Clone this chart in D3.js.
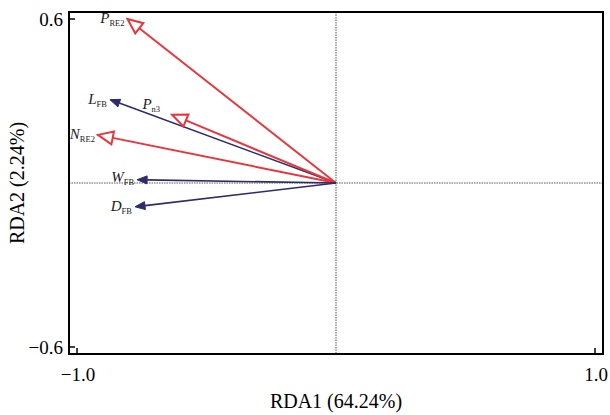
<!DOCTYPE html>
<html>
<head>
<meta charset="utf-8">
<script src="https://cdn.jsdelivr.net/npm/d3@7"></script>
<style>
  body { margin: 0; background: #fff; }
  text { font-family: "Liberation Serif", "Times New Roman", serif; }
</style>
</head>
<body>
<script>
// variables (arrow labels), split in main letter + subscript
const names = ['PRE2', 'LFB', 'Pn3', 'NRE2', 'WFB', 'DFB']
const mainLetter = ['P', 'L', 'P', 'N', 'W', 'D']
const subText = ['RE2', 'FB', 'n3', 'RE2', 'FB', 'FB']
// arrow tips on RDA1 / RDA2
const rda1 = [-0.805, -0.873, -0.633, -0.919, -0.768, -0.776]
const rda2 = [0.600, 0.305, 0.250, 0.176, 0.012, -0.087]
// group: red = open head, blue = filled head
const group = ['red', 'blue', 'red', 'red', 'blue', 'blue']

const xTicks = [-1.0, 1.0]
const yTicks = [-0.6, 0.6]
const xTitle = 'RDA1 (64.24%)'
const yTitle = 'RDA2 (2.24%)'

const W = 610, H = 415
const RED = '#e8363c', BLUE = '#2d2b6b'

const svg = d3.select('body').append('svg').attr('width', W).attr('height', H)

const x = d3.scaleLinear().domain([-1, 1]).range([77, 595])
const y = d3.scaleLinear().domain([-0.6, 0.6]).range([347, 19])

// frame box
const frame = { left: 69, right: 603, top: 12, bottom: 354 }

// crosshair through origin
svg.append('line')
    .attr('x1', x(0)).attr('x2', x(0))
    .attr('y1', frame.top).attr('y2', frame.bottom)
    .attr('stroke', '#444').attr('stroke-width', 0.9).attr('stroke-dasharray', '1.5,1')
svg.append('line')
    .attr('x1', frame.left).attr('x2', frame.right)
    .attr('y1', y(0)).attr('y2', y(0))
    .attr('stroke', '#444').attr('stroke-width', 0.9).attr('stroke-dasharray', '1.5,1')

// tweak label place relative to tip (only P_n3 sits above)
const labelShift = { Pn3: [-12, -10], WFB: [-3, -2] }

// arrows
names.forEach((nm, i) => {
    const x0 = x(0), y0 = y(0)
    const tx = x(rda1[i]), ty = y(rda2[i])
    const dx = tx - x0, dy = ty - y0
    const len = Math.sqrt(dx * dx + dy * dy)
    const ux = dx / len, uy = dy / len
    const px = -uy, py = ux
    const isRed = group[i] === 'red'
    const hl = isRed ? 15 : 10     // head length
    const hw = isRed ? 6.5 : 4     // half width
    const col = isRed ? RED : BLUE
    const bx = tx - ux * hl, by = ty - uy * hl

    svg.append('line')
        .attr('x1', x0).attr('y1', y0)
        .attr('x2', bx).attr('y2', by)
        .attr('stroke', col).attr('stroke-width', isRed ? 2 : 1.6)

    const pts = [[tx, ty], [bx + px * hw, by + py * hw], [bx - px * hw, by - py * hw]]
    svg.append('polygon')
        .attr('points', pts.map(p => p.join(',')).join(' '))
        .attr('fill', isRed ? '#fff' : col)
        .attr('stroke', col)
        .attr('stroke-width', isRed ? 2 : 1)
        .attr('stroke-linejoin', 'miter')

    const sh = labelShift[nm] || [-3, 0]
    const t = svg.append('text')
        .attr('x', tx + sh[0]).attr('y', ty + sh[1] + 4)
        .attr('text-anchor', 'end')
        .attr('fill', '#222')
    t.append('tspan').text(mainLetter[i])
        .style('font-style', 'italic').style('font-size', '15px')
    t.append('tspan').text(subText[i])
        .attr('dy', 3).style('font-size', '8.5px')
})

// frame
svg.append('rect')
    .attr('x', frame.left).attr('y', frame.top)
    .attr('width', frame.right - frame.left).attr('height', frame.bottom - frame.top)
    .attr('fill', 'none').attr('stroke', '#000').attr('stroke-width', 2)

// ticks (inward)
xTicks.forEach(v => {
    svg.append('line')
        .attr('x1', x(v)).attr('x2', x(v))
        .attr('y1', frame.bottom).attr('y2', frame.bottom - 6)
        .attr('stroke', '#000').attr('stroke-width', 1.5)
    svg.append('text')
        .attr('x', x(v) + 1).attr('y', 381)
        .attr('text-anchor', 'middle')
        .style('font-size', '19px')
        .text(d3.format('.1f')(v).replace('-', '\u2212'))
})
yTicks.forEach(v => {
    svg.append('line')
        .attr('x1', frame.left).attr('x2', frame.left + 6)
        .attr('y1', y(v)).attr('y2', y(v))
        .attr('stroke', '#000').attr('stroke-width', 1.5)
    svg.append('text')
        .attr('x', 63).attr('y', y(v) + 7)
        .attr('text-anchor', 'end')
        .style('font-size', '19px')
        .text(d3.format('.1f')(v).replace('-', '\u2212'))
})

// axis titles
svg.append('text')
    .attr('x', x(0)).attr('y', 408)
    .attr('text-anchor', 'middle')
    .style('font-size', '20px')
    .text(xTitle)
svg.append('text')
    .attr('transform', 'translate(24,' + y(0) + ') rotate(-90)')
    .attr('text-anchor', 'middle')
    .style('font-size', '20px')
    .text(yTitle)
</script>
</body>
</html>
